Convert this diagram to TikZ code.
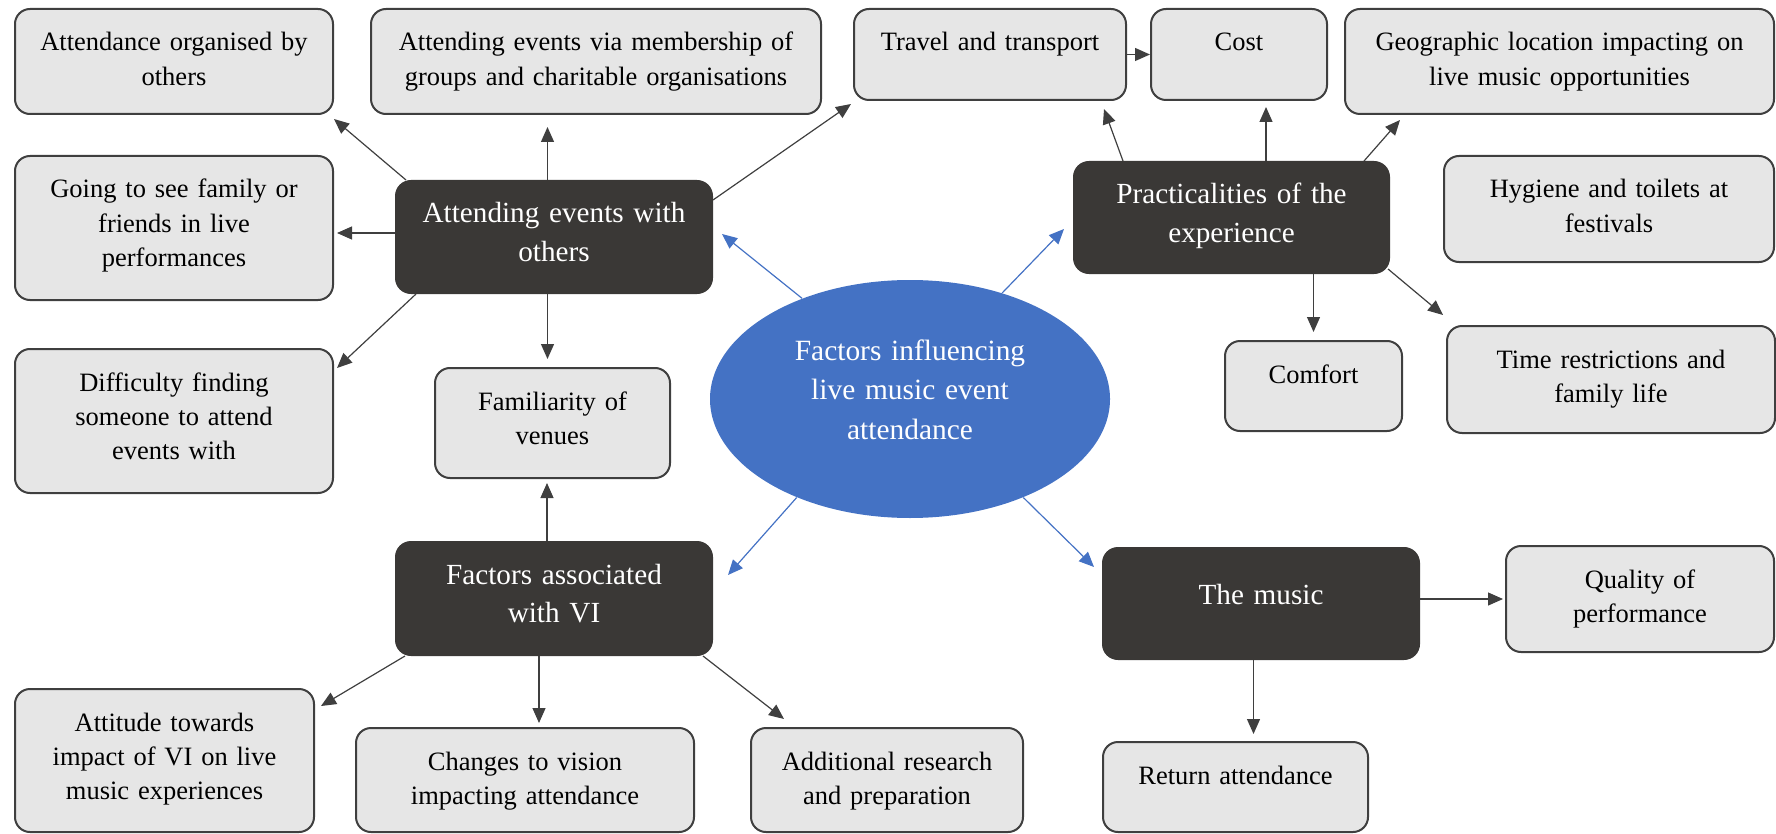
\documentclass[tikz,border=0pt]{standalone}
\usepackage{fontspec}
\setmainfont{Liberation Serif}
\usepackage[]{xcolor}
\usetikzlibrary{arrows.meta,shapes.geometric}

\definecolor{boxgray}{HTML}{E6E6E6}
\definecolor{edgegray}{HTML}{3F3F3F}
\definecolor{darkbox}{HTML}{3A3836}
\definecolor{mapblue}{HTML}{4472C4}

\newcommand{\smalltxt}{\fontsize{13.25}{17.2}\selectfont}
\newcommand{\bigtxt}{\fontsize{14.6}{19.3}\selectfont}

\tikzset{
  leaf/.style = {draw=edgegray, fill=boxgray, line width=1pt, rounded corners=7.5pt,
    inner sep=0pt, align=center, text height=21pt, anchor=north west, font=\smalltxt},
  theme/.style = {leaf, draw=darkbox, fill=darkbox, text=white, font=\bigtxt},
  link/.style = {draw=edgegray, line width=0.6pt, -{Triangle[length=7.5pt,width=6.5pt]}},
  bluelink/.style = {link, draw=mapblue},
}

\begin{document}
\begin{tikzpicture}[x=0.5pt, y=-0.5pt]
\useasboundingbox (0,0) rectangle (1776,834);

% centre
\node[ellipse, fill=mapblue, minimum width=200pt, minimum height=119pt, inner sep=0pt,
  text width=130pt, align=center, text height=12pt, text depth=50.4pt, text=white,
  font=\fontsize{14.7}{19.6}\selectfont] (centre) at (910,399)
  {Factors influencing\\live music event\\attendance};

% themes
\node[theme, text width=158pt, text depth=35pt] (others) at (395,180) {Attending events with\\others};
\node[theme, text width=157.5pt, text depth=34.5pt] (prac) at (1073,161) {Practicalities of the\\experience};
\node[theme, text width=158pt, text depth=35.5pt] (vi) at (395,541) {Factors associated\\with VI};
\node[theme, text width=158pt, text height=28pt, text depth=27.5pt] (music) at (1102,547) {The music};

% sub-themes
\node[leaf, text width=159pt, text depth=31.5pt] (org) at (14,8) {Attendance organised by\\others};
\node[leaf, text width=225pt, text depth=31.5pt] (memb) at (370,8) {Attending events via membership of\\groups and charitable organisations};
\node[leaf, text width=136pt, text depth=24.5pt] (travel) at (853,8) {Travel and transport};
\node[leaf, text width=88pt, text depth=24.5pt] (cost) at (1150,8) {Cost};
\node[leaf, text width=214.5pt, text depth=31.5pt] (geo) at (1344,8) {Geographic location impacting on\\live music opportunities};
\node[leaf, text width=159pt, text depth=51pt] (family) at (14,155) {Going to see family or\\friends in live\\performances};
\node[leaf, text width=165pt, text depth=32pt] (hygiene) at (1443,155) {Hygiene and toilets at\\festivals};
\node[leaf, text width=159pt, text depth=51pt] (diff) at (14,348) {Difficulty finding\\someone to attend\\events with};
\node[leaf, text width=117.5pt, text depth=34pt] (famil) at (434,367) {Familiarity of\\venues};
\node[leaf, text width=88.5pt, text depth=24pt] (comfort) at (1224,340) {Comfort};
\node[leaf, text width=164pt, text depth=32.5pt] (time) at (1446,325) {Time restrictions and\\family life};
\node[leaf, text width=134pt, text depth=32pt] (quality) at (1505,545) {Quality of\\performance};
\node[leaf, text width=149.5pt, text depth=50.5pt] (attitude) at (14,688) {Attitude towards\\impact of VI on live\\music experiences};
\node[leaf, text width=169pt, text depth=31pt] (changes) at (355,727) {Changes to vision\\impacting attendance};
\node[leaf, text width=136pt, text depth=31pt] (research) at (750,727) {Additional research\\and preparation};
\node[leaf, text width=132.5pt, text depth=24pt] (return) at (1102,741) {Return attendance};

% centre to themes
\draw[bluelink] (centre.137.2) -- ([xshift=4.5pt,yshift=1.5pt]others.east);
\draw[bluelink] (centre.49.7) -- ([xshift=-4.5pt,yshift=-5.75pt]prac.west);
\draw[bluelink] (centre.221.8) -- ([xshift=7.5pt,yshift=11.75pt]vi.east);
\draw[bluelink] (centre.319.5) -- ([xshift=-4pt,yshift=-10pt]music.north west);

% attending events with others
\draw[link] ([xshift=5.5pt]others.north west) -- ([yshift=-2pt]org.south east);
\draw[link] ([xshift=-3.25pt]others.north) -- ([xshift=-24.25pt,yshift=-6pt]memb.south);
\draw[link] ([yshift=-10pt]others.north east) -- ([xshift=-1pt,yshift=-1.5pt]travel.south west);
\draw[link] ([yshift=2pt]others.west) -- ([xshift=1.5pt,yshift=-2.5pt]family.east);
\draw[link] ([xshift=10.5pt]others.south west) -- ([xshift=1.5pt,yshift=-10pt]diff.north east);
\draw[link] ([xshift=-3.25pt]others.south) -- ([xshift=-2.5pt,yshift=4pt]famil.north);

% factors associated with VI
\draw[link] ([xshift=-3.5pt]vi.north) -- ([xshift=-2.75pt,yshift=-2pt]famil.south);
\draw[link] ([xshift=5pt]vi.south west) -- ([xshift=3pt,yshift=-9pt]attitude.north east);
\draw[link] ([xshift=-7.5pt]vi.south) -- ([xshift=7pt,yshift=2pt]changes.north);
\draw[link] ([xshift=-5pt]vi.south east) -- ([xshift=17pt,yshift=4pt]research.north west);

% practicalities of the experience
\draw[link] (travel.east) -- (cost.west);
\draw[link] ([xshift=25pt]prac.north west) -- ([xshift=-11.5pt,yshift=-4pt]travel.south east);
\draw[link] ([xshift=17.25pt]prac.north) -- ([xshift=13.5pt,yshift=-3pt]cost.south);
\draw[link] ([xshift=-13pt]prac.north east) -- ([xshift=28pt,yshift=-2.5pt]geo.south west);
\draw[link] ([xshift=41pt]prac.south) -- ([yshift=4pt]comfort.north);
\draw[link] ([xshift=-1pt,yshift=2.5pt]prac.south east) -- ([xshift=-1.5pt,yshift=5pt]time.north west);

% the music
\draw[link] ([yshift=2.25pt]music.east) -- ([xshift=-1pt]quality.west);
\draw[link] ([xshift=-3.75pt]music.south) -- ([xshift=9pt,yshift=3.5pt]return.north);
\end{tikzpicture}
\end{document}
